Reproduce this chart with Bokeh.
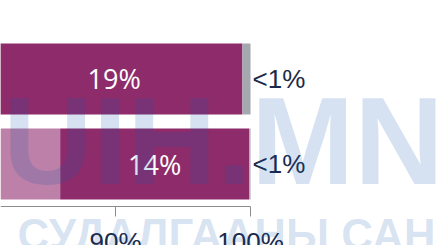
import numpy as np
from bokeh.plotting import figure
from bokeh.models import Range1d, LinearAxis, FixedTicker, Label, ColumnDataSource
from bokeh.core.properties import value
from bokeh.embed import file_html
from bokeh.resources import INLINE

# ---- data ----
row_pos = [1, 0]                 # two stacked bars, top to bottom
rest_share = [80.4, 85.9]        # lighter / earlier part of each bar
main_share = [19.0, 14.0]        # highlighted segment
minor_share = [0.6, 0.1]         # tiny grey remainder
main_labels = ["19%", "14%"]
minor_labels = ["<1%", "<1%"]
tick_values = [80, 90, 100]
tick_labels = ["80%", "90%", "100%"]
watermark_lines = ["UIH.MN", "СУДАЛГААНЫ САН"]

# ---- styling ----
DARK = "#8E2C6B"
LIGHT = "#BD80A8"
GREY = "#A6A8AF"
NAVY = "#1B2A4A"
AXIS = "#8C8C8C"
WM = "#0E54AD"
SANS = "Liberation Sans"

rest = np.array(rest_share)
main = np.array(main_share)
minor = np.array(minor_share)
main_left = rest
main_right = rest + main
minor_right = main_right + minor

src = ColumnDataSource(dict(
    y=row_pos, rest=rest, main_left=main_left, main_right=main_right,
    minor_right=minor_right, main_mid=(main_left + main_right) / 2,
    main_labels=main_labels, minor_labels=minor_labels,
))

p = figure(width=437, height=245, output_backend="svg", toolbar_location=None,
           x_range=Range1d(81.48, 113.85), y_range=Range1d(-0.9588, 1.9235),
           min_border=0, x_axis_location=None, y_axis_location=None,
           background_fill_color="white", border_fill_color="white")
p.outline_line_color = None
p.grid.visible = False

BAR_H = 0.835
p.hbar(y="y", left=0, right="rest", height=BAR_H, source=src,
       fill_color=LIGHT, line_color=None)
p.hbar(y="y", left="main_left", right="main_right", height=BAR_H, source=src,
       fill_color=DARK, line_color=None)
p.hbar(y="y", left="main_right", right="minor_right", height=BAR_H, source=src,
       fill_color=GREY, line_color=None)

p.text(x="main_mid", y="y", text="main_labels", source=src,
       text_color="white", text_font=value("Open Sans"), text_font_size="27px",
       text_align="center", text_baseline="middle")
p.text(x="minor_right", y="y", text="minor_labels", source=src, x_offset=2,
       text_color=NAVY, text_font=value(SANS), text_font_size="26px",
       text_align="left", text_baseline="middle")

ax = LinearAxis(fixed_location=-0.5, ticker=FixedTicker(ticks=tick_values),
                major_label_overrides=dict(zip(tick_values, tick_labels)),
                bounds=(0, 100))
ax.axis_line_color = AXIS
ax.major_tick_line_color = AXIS
ax.major_tick_in = 0
ax.major_tick_out = 10
ax.minor_tick_in = 0
ax.minor_tick_out = 0
ax.major_label_standoff = 10
ax.major_label_text_font = SANS
ax.major_label_text_font_size = "26px"
ax.major_label_text_color = NAVY
p.add_layout(ax, "below")

# watermark overlay
ppu = 245 / (1.9235 + 0.9588)
def ydat(px):
    return 1.9235 - px / ppu
def xdat(px):
    return 81.48 + px / 13.5

p.add_layout(Label(x=xdat(223), y=ydat(140), text=watermark_lines[0],
                   text_align="center", text_baseline="alphabetic",
                   text_font=SANS, text_font_style="bold", text_font_size="124px",
                   text_color=WM, text_alpha=0.17, level="overlay"))
p.add_layout(Label(x=xdat(226), y=ydat(234), text=watermark_lines[1],
                   text_align="center", text_baseline="alphabetic",
                   text_font=SANS, text_font_style="bold", text_font_size="44px",
                   text_color=WM, text_alpha=0.17, level="overlay"))

open("out.html", "w").write(file_html(p, INLINE))
